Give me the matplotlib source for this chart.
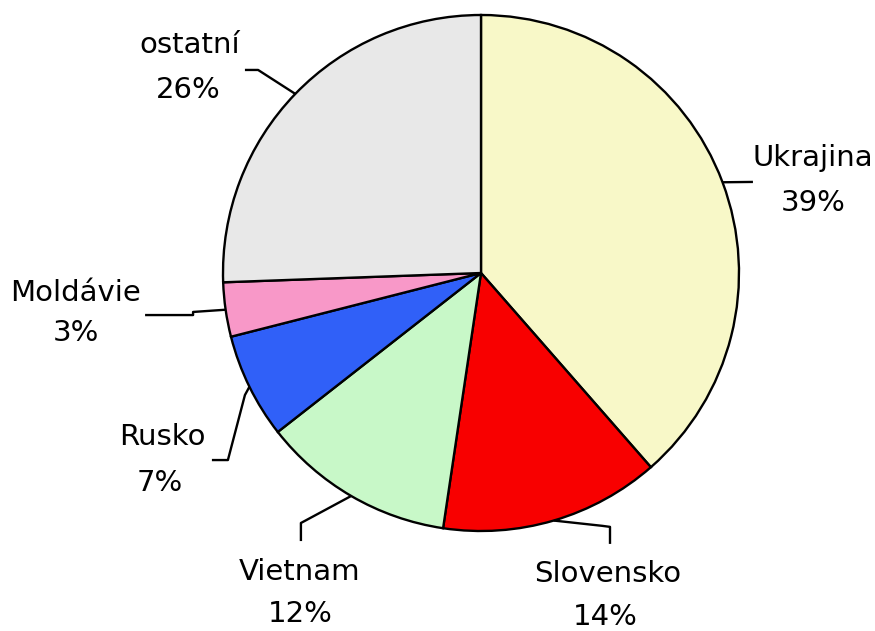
import numpy as np
import matplotlib
matplotlib.use("Agg")
import matplotlib.pyplot as plt

categories = ["Ukrajina", "Slovensko", "Vietnam", "Rusko", "Moldávie", "ostatní"]
values = [38.6, 13.8, 12.1, 6.6, 3.4, 25.6]
colors = ["#F8F8C8", "#F80000", "#C8F8C8", "#3060F8", "#F898C8", "#E8E8E8"]

# label layout (data units, pie radius = 1): name pos, pct pos, leader path (ending at wedge edge)
label_layout = {
    "Ukrajina": ((1.287, 0.446), (1.287, 0.271), [(1.054, 0.353)]),
    "Slovensko": ((0.492, -1.167), (0.481, -1.333), [(0.5, -1.050), (0.5, -0.984), (0.47, -0.980)]),
    "Vietnam": ((-0.702, -1.159), (-0.702, -1.322), [(-0.698, -1.039), (-0.698, -0.969)]),
    "Rusko": ((-1.236, -0.636), (-1.244, -0.814), [(-1.043, -0.725), (-0.981, -0.725), (-0.915, -0.473)]),
    "Moldávie": ((-1.570, -0.078), (-1.570, -0.233), [(-1.302, -0.163), (-1.116, -0.163), (-1.116, -0.151)]),
    "ostatní": ((-1.128, 0.884), (-1.136, 0.709), [(-0.915, 0.787), (-0.864, 0.787)]),
}

fig = plt.figure(figsize=(8.75, 6.31), dpi=100)
ax = fig.add_axes([0, 0, 1, 1])
wedges, _ = ax.pie(values, colors=colors, startangle=90, counterclock=False,
                   radius=1.0, center=(0, 0),
                   wedgeprops=dict(edgecolor="black", linewidth=1.7))

total = sum(values)
fs = 21
for w, cat, v in zip(wedges, categories, values):
    mid = np.deg2rad((w.theta1 + w.theta2) / 2.0)
    ax_pt = (np.cos(mid), np.sin(mid))
    name_pos, pct_pos, path = label_layout[cat]
    pts = path + [ax_pt]
    xs = [p[0] for p in pts]
    ys = [p[1] for p in pts]
    ax.plot(xs, ys, color="black", linewidth=1.7, solid_capstyle="butt", zorder=3)
    ax.text(name_pos[0], name_pos[1], cat, ha="center", va="center", fontsize=fs,
            family="DejaVu Sans")
    ax.text(pct_pos[0], pct_pos[1], f"{round(v / total * 100):d}%", ha="center", va="center",
            fontsize=fs, family="DejaVu Sans")

ax.set_xlim(-481 / 258, (875 - 481) / 258)
ax.set_ylim((273 - 631) / 258, 273 / 258)
ax.set_aspect("equal", adjustable="box")
ax.axis("off")
fig.savefig("out.png", dpi=100, facecolor="white")
